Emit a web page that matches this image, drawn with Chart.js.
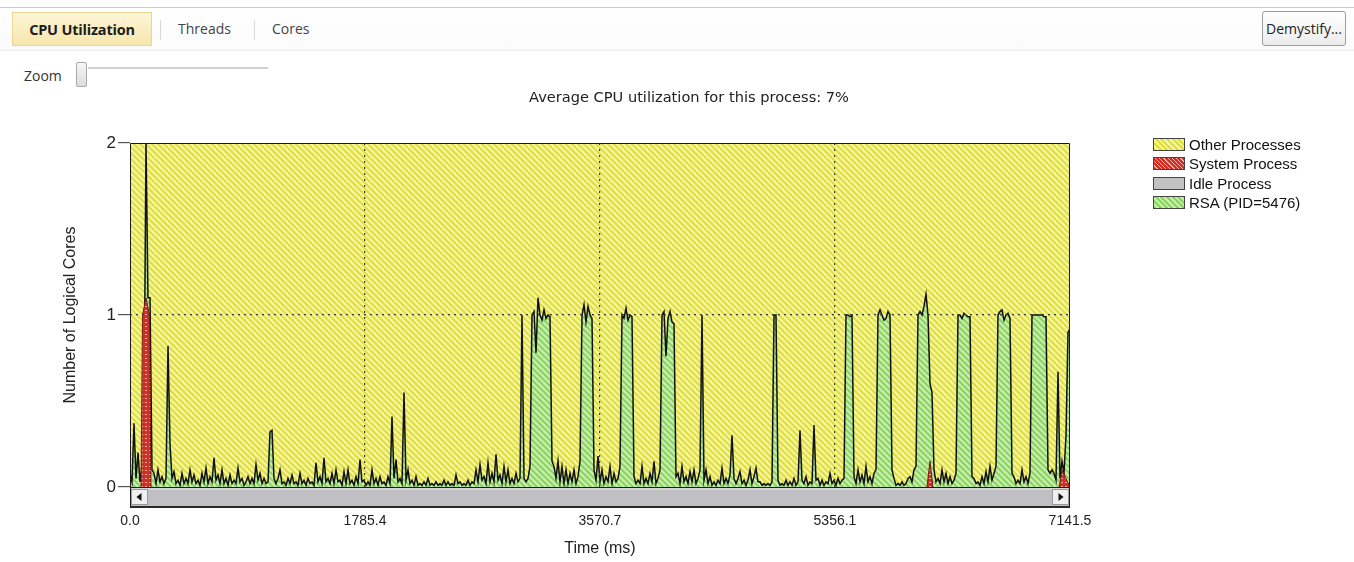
<!DOCTYPE html>
<html>
<head>
<meta charset="utf-8">
<script src="https://cdn.jsdelivr.net/npm/chart.js@4.4.0/dist/chart.umd.min.js"></script>
<style>
  body { margin: 0; width: 1354px; height: 562px; background: #fff; position: relative; overflow: hidden; font-family: "Liberation Sans", Arial, sans-serif; }
  .toolbar { position: absolute; left: 0; top: 7px; width: 1354px; height: 42px; border-top: 1px solid #c9ccd3; border-bottom: 1px solid #ececec; background: linear-gradient(#fff, #fbfbfb); }
  .tab { position: absolute; top: 4px; height: 34px; line-height: 34px; font-family: "Open Sans", sans-serif; font-size: 14px; color: #444; }
  .tab.active { left: 12px; width: 140px; box-sizing: border-box; text-align: center; background: linear-gradient(#fdf5d6, #f7e6ad); border: 1px solid #ead595; font-weight: bold; font-size: 14.5px; letter-spacing: -0.2px; color: #1c1c1c; }
  .sep { position: absolute; top: 12px; width: 1px; height: 20px; background: #d9d9d9; }
  .btn { position: absolute; left: 1262px; top: 3px; width: 84px; height: 35px; box-sizing: border-box; border: 1px solid #9c9c9c; border-radius: 3px; background: linear-gradient(#fff, #ececec); font-family: "Open Sans", sans-serif; font-size: 14px; line-height: 33px; text-align: center; color: #222; }
  .zoom { position: absolute; left: 24px; top: 66px; font-family: "Open Sans", sans-serif; font-size: 14px; color: #333; }
  .track { position: absolute; left: 88px; top: 67px; width: 180px; height: 2px; background: #cfcfcf; }
  .thumb { position: absolute; left: 76px; top: 62px; width: 11px; height: 25px; box-sizing: border-box; border: 1px solid #a9a9a9; border-radius: 2px; background: linear-gradient(#f6f6f6, #dcdcdc); }
  .title { position: absolute; left: 389px; top: 88px; width: 600px; text-align: center; font-family: "DejaVu Sans", sans-serif; font-size: 14.6px; line-height: 18px; color: #222; z-index: 2; }
  #cpu { position: absolute; left: 0; top: 85px; }
  .legend { position: absolute; left: 1153px; top: 137px; font-size: 15px; color: #111; }
  .legend div { height: 19.3px; line-height: 15px; white-space: nowrap; }
  .legend span { display: inline-block; width: 30px; height: 11px; border: 1px solid #444; margin-right: 4px; vertical-align: -1px; }
</style>
</head>
<body>
<div class="toolbar">
  <div class="tab active">CPU Utilization</div>
  <div class="sep" style="left:160px"></div>
  <div class="tab" style="left:178px">Threads</div>
  <div class="sep" style="left:254px"></div>
  <div class="tab" style="left:272px">Cores</div>
  <div class="btn">Demystify...</div>
</div>
<div class="zoom">Zoom</div>
<div class="track"></div>
<div class="thumb"></div>
<div class="title">Average CPU utilization for this process: 7%</div>
<canvas id="cpu" width="1354" height="477"></canvas>
<div class="legend" id="legend"></div>
<script>
const timeTicks = [0, 1785.4, 3570.7, 5356.1, 7141.5];
const coreTicks = [0, 1, 2];
const seriesNames = ["Other Processes", "System Process", "Idle Process", "RSA (PID=5476)"];

// one sample every 7141.5 / 470 ms
const sampleMs = 7141.5 / 470;
const rsaCores = [
  0.08, 0.03, 0.37, 0.05, 0.2, 0.03, 0.12, 0.4, 2.0, 1.1,
  1.1, 0.1, 0.08, 0.02, 0.1, 0.03, 0.06, 0.02, 0.05, 0.82,
  0.25, 0.05, 0.09, 0.02, 0.04, 0.01, 0.08, 0.02, 0.05, 0.02,
  0.1, 0.03, 0.07, 0.02, 0.04, 0.01, 0.08, 0.03, 0.11, 0.02,
  0.06, 0.03, 0.17, 0.04, 0.07, 0.02, 0.1, 0.02, 0.05, 0.01,
  0.07, 0.02, 0.04, 0.02, 0.11, 0.03, 0.05, 0.01, 0.03, 0.06,
  0.02, 0.05, 0.02, 0.13, 0.04, 0.08, 0.02, 0.05, 0.02, 0.03,
  0.32, 0.33, 0.05, 0.02, 0.05, 0.1, 0.02, 0.03, 0.01, 0.05,
  0.02, 0.07, 0.02, 0.03, 0.01, 0.08, 0.02, 0.04, 0.01, 0.05,
  0.02, 0.03, 0.01, 0.14, 0.03, 0.06, 0.02, 0.17, 0.03, 0.05,
  0.02, 0.08, 0.02, 0.1, 0.03, 0.04, 0.01, 0.09, 0.02, 0.1,
  0.02, 0.04, 0.01, 0.06, 0.02, 0.16, 0.03, 0.04, 0.01, 0.03,
  0.01, 0.1, 0.02, 0.05, 0.01, 0.06, 0.02, 0.03, 0.01, 0.06,
  0.02, 0.41, 0.05, 0.16, 0.03, 0.05, 0.02, 0.55, 0.04, 0.1,
  0.02, 0.04, 0.01, 0.06, 0.01, 0.02, 0.01, 0.03, 0.01, 0.05,
  0.01, 0.02, 0.01, 0.03, 0.01, 0.02, 0.01, 0.04, 0.01, 0.03,
  0.01, 0.02, 0.01, 0.07, 0.02, 0.03, 0.01, 0.02, 0.01, 0.04,
  0.01, 0.03, 0.02, 0.1, 0.03, 0.13, 0.04, 0.06, 0.02, 0.14,
  0.03, 0.08, 0.03, 0.19, 0.04, 0.07, 0.02, 0.12, 0.03, 0.1,
  0.02, 0.05, 0.02, 0.08, 0.03, 0.05, 1.0, 0.05, 0.03, 0.05,
  0.12, 1.0, 1.02, 0.78, 1.1, 1.0, 0.97, 1.03, 0.98, 1.0,
  0.99, 0.15, 0.12, 0.05, 0.15, 0.03, 0.12, 0.02, 0.1, 0.02,
  0.08, 0.03, 0.1, 0.02, 0.06, 0.15, 1.0, 1.06, 0.96, 1.05,
  1.0, 0.98, 0.1, 0.04, 0.18, 0.03, 0.1, 0.02, 0.06, 0.03,
  0.12, 0.02, 0.08, 0.03, 0.05, 0.12, 1.0, 0.98, 1.04, 0.97,
  1.0, 0.99, 0.06, 0.02, 0.04, 0.02, 0.12, 0.02, 0.05, 0.02,
  0.08, 0.03, 0.15, 0.02, 0.05, 0.1, 1.0, 1.02, 0.76, 0.98,
  1.02, 0.96, 0.95, 0.06, 0.08, 0.02, 0.12, 0.03, 0.06, 0.02,
  0.09, 0.03, 0.1, 0.02, 0.05, 0.1, 1.0, 0.04, 0.1, 0.02,
  0.06, 0.01, 0.03, 0.01, 0.04, 0.02, 0.11, 0.02, 0.05, 0.02,
  0.07, 0.3, 0.05, 0.02, 0.05, 0.09, 0.02, 0.04, 0.01, 0.04,
  0.1, 0.02, 0.06, 0.11, 0.03, 0.03, 0.01, 0.02, 0.01, 0.02,
  0.01, 0.03, 1.0, 1.0, 0.04, 0.01, 0.02, 0.01, 0.04, 0.01,
  0.03, 0.01, 0.05, 0.01, 0.03, 0.33, 0.04, 0.02, 0.06, 0.01,
  0.03, 0.02, 0.36, 0.04, 0.05, 0.01, 0.04, 0.01, 0.03, 0.02,
  0.08, 0.02, 0.04, 0.01, 0.05, 0.02, 0.04, 0.05, 1.0, 1.0,
  0.99, 1.0, 0.06, 0.02, 0.1, 0.03, 0.07, 0.02, 0.12, 0.03,
  0.06, 0.02, 0.08, 0.1, 1.0, 1.03, 1.0, 0.97, 0.98, 1.02,
  1.0, 0.1, 0.05, 0.01, 0.02, 0.01, 0.03, 0.01, 0.02, 0.05,
  0.06, 0.03, 0.1, 0.12, 1.0, 1.02, 1.0, 1.05, 1.12, 1.0,
  0.6, 0.55, 0.1, 0.03, 0.05, 0.02, 0.1, 0.03, 0.08, 0.02,
  0.06, 0.02, 0.04, 0.08, 1.0, 1.0, 0.98, 1.01, 1.0, 0.99,
  0.99, 0.06, 0.05, 0.02, 0.03, 0.01, 0.06, 0.02, 0.09, 0.03,
  0.12, 0.04, 0.08, 0.12, 1.0, 1.02, 1.03, 0.97, 1.0, 1.01,
  0.98, 0.08, 0.06, 0.02, 0.04, 0.02, 0.1, 0.03, 0.06, 0.02,
  0.08, 1.0, 1.0, 1.0, 1.0, 1.0, 1.0, 0.99, 0.99, 0.1,
  0.08, 0.1, 0.08, 0.04, 0.67, 0.05, 0.15, 0.08, 0.3, 0.9,
  0.92
];

// system process only shows in a few short bursts (null = gap)
const systemMs = [83.6, 95.0, 121.6, 148.1, 159.5, 1000, 6055, 6077.8, 6100, 7000, 7060, 7080.7, 7111.1, 7141.5];
const systemCores = [0, 1.0, 1.1, 1.0, 0, null, 0, 0.15, 0, null, 0, 0.1, 0.05, 0];

// other processes fill the rest up to the 2 logical cores
const otherMs = [0, 7141.5];
const otherCores = [2, 2];

const canvas = document.getElementById("cpu");
const ctx = canvas.getContext("2d");

function stripes(base, line, size, width) {
  const c = document.createElement("canvas");
  c.width = size;
  c.height = size;
  const g = c.getContext("2d");
  g.fillStyle = base;
  g.fillRect(0, 0, size, size);
  g.strokeStyle = line;
  g.lineWidth = width;
  g.beginPath();
  g.moveTo(-1, -1); g.lineTo(size + 1, size + 1);
  g.moveTo(-1, size - 1); g.lineTo(1, size + 1);
  g.moveTo(size - 1, -1); g.lineTo(size + 1, 1);
  g.stroke();
  return ctx.createPattern(c, "repeat");
}

function zigzag() {
  const c = document.createElement("canvas");
  c.width = 4;
  c.height = 4;
  const g = c.getContext("2d");
  g.fillStyle = "#cf2f25";
  g.fillRect(0, 0, 4, 4);
  g.fillStyle = "#f4b0a8";
  g.fillRect(1, 1, 2, 1);
  return ctx.createPattern(c, "repeat");
}

const yellowFill = stripes("#dfdf34", "#f6f6a0", 6, 2.2);
const greenFill = stripes("#8ad464", "#c8f1a8", 6, 2.2);
const redFill = zigzag();

function points(xs, ys) {
  return ys.map((y, i) => ({ x: xs[i], y: y }));
}

const scrollbar = {
  id: "scrollbar",
  afterDraw(chart) {
    const c = chart.ctx;
    const a = chart.chartArea;
    const top = a.bottom + 1;
    const h = 18;
    c.save();
    c.fillStyle = "#c0c0c4";
    c.fillRect(a.left, top, a.right - a.left, h);
    c.fillStyle = "#d4d4d8";
    c.fillRect(a.left, top, a.right - a.left, 2);
    // arrow buttons
    [[a.left + 1, -1], [a.right - 18, 1]].forEach(([bx, dir]) => {
      c.fillStyle = "#efefef";
      c.fillRect(bx, top + 1, 17, h - 2);
      c.strokeStyle = "#9a9a9a";
      c.lineWidth = 1;
      c.strokeRect(bx + 0.5, top + 1.5, 16, h - 3);
      const cx = bx + 8.5, cy = top + h / 2;
      c.fillStyle = "#111";
      c.beginPath();
      c.moveTo(cx + 3 * dir, cy);
      c.lineTo(cx - 2 * dir, cy - 4);
      c.lineTo(cx - 2 * dir, cy + 4);
      c.closePath();
      c.fill();
    });
    c.fillStyle = "#2a2a2a";
    c.fillRect(a.left, top + h, a.right - a.left, 2);
    // frame
    c.strokeStyle = "#1b1b1b";
    c.lineWidth = 1;
    c.beginPath();
    c.moveTo(a.left + 0.5, top + h + 1);
    c.lineTo(a.left + 0.5, a.top + 0.5);
    c.lineTo(a.right - 0.5, a.top + 0.5);
    c.lineTo(a.right - 0.5, top + h + 1);
    c.moveTo(a.left, a.bottom + 0.5);
    c.lineTo(a.right, a.bottom + 0.5);
    c.stroke();
    c.restore();
  }
};

const axisFamily = "'Liberation Sans Narrow', 'Arial Narrow', 'Liberation Sans', sans-serif";

new Chart(ctx, {
  type: "line",
  data: {
    datasets: [
      {
        label: seriesNames[1],
        data: points(systemMs, systemCores),
        borderColor: "#7a1a10",
        borderWidth: 1,
        backgroundColor: redFill,
        fill: "origin",
        spanGaps: false,
        pointRadius: 0,
        tension: 0
      },
      {
        label: seriesNames[3],
        data: rsaCores.map((v, i) => ({ x: i * sampleMs, y: v })),
        borderColor: "#111",
        borderWidth: 1.5,
        backgroundColor: greenFill,
        fill: "origin",
        pointRadius: 0,
        tension: 0
      },
      {
        label: seriesNames[0],
        data: points(otherMs, otherCores),
        borderWidth: 0,
        borderColor: "rgba(0,0,0,0)",
        backgroundColor: yellowFill,
        fill: "origin",
        pointRadius: 0
      }
    ]
  },
  options: {
    responsive: false,
    animation: false,
    events: [],
    layout: { padding: { left: 0, right: 284, top: 58, bottom: 0 } },
    scales: {
      x: {
        type: "linear",
        min: 0,
        max: 7141.5,
        afterBuildTicks: (scale) => { scale.ticks = timeTicks.map(v => ({ value: v })); },
        afterFit: (scale) => { scale.height = 75; },
        ticks: {
          autoSkip: false,
          maxRotation: 0,
          padding: 26,
          color: "#222",
          font: { family: axisFamily, size: 14 },
          callback: (v) => v.toFixed(1)
        },
        grid: {
          z: 1,
          drawTicks: false,
          color: (c) => (c.tick.value > 0 && c.tick.value < 7141.5) ? "#3c3c20" : "rgba(0,0,0,0)",
          lineWidth: 1.2
        },
        border: { display: false, dash: [2, 4] },
        title: {
          display: true,
          text: "Time (ms)",
          color: "#222",
          font: { family: axisFamily, size: 16 },
          padding: { top: 0, bottom: 4 }
        }
      },
      y: {
        min: 0,
        max: 2,
        afterBuildTicks: (scale) => { scale.ticks = coreTicks.map(v => ({ value: v })); },
        afterFit: (scale) => { scale.width = 130; },
        ticks: {
          padding: 2,
          color: "#222",
          font: { family: axisFamily, size: 17 }
        },
        grid: {
          z: 1,
          drawTicks: true,
          tickLength: 12,
          tickColor: "#555",
          color: (c) => c.tick.value === 1 ? "#3c3c20" : "rgba(0,0,0,0)",
          lineWidth: 1.2
        },
        border: { display: false, dash: [2, 4] },
        title: {
          display: true,
          text: "Number of Logical Cores",
          color: "#222",
          font: { family: axisFamily, size: 16 },
          padding: { top: 61, bottom: 0 }
        }
      }
    },
    plugins: {
      legend: { display: false },
      tooltip: { enabled: false },
      title: { display: false }
    }
  },
  plugins: [scrollbar]
});

// legend swatches
const swatches = [
  "repeating-linear-gradient(45deg, #dfdf34 0 2px, #f6f6a0 2px 4px)",
  "repeating-linear-gradient(45deg, #cf2f25 0 2px, #f2b0a8 2px 3px), #cf2f25",
  "#c2c2c2",
  "repeating-linear-gradient(45deg, #8ad464 0 2px, #c8f1a8 2px 4px)"
];
const legend = document.getElementById("legend");
seriesNames.forEach((name, i) => {
  const row = document.createElement("div");
  const box = document.createElement("span");
  box.style.background = swatches[i];
  row.appendChild(box);
  row.appendChild(document.createTextNode(name));
  legend.appendChild(row);
});
</script>
</body>
</html>
